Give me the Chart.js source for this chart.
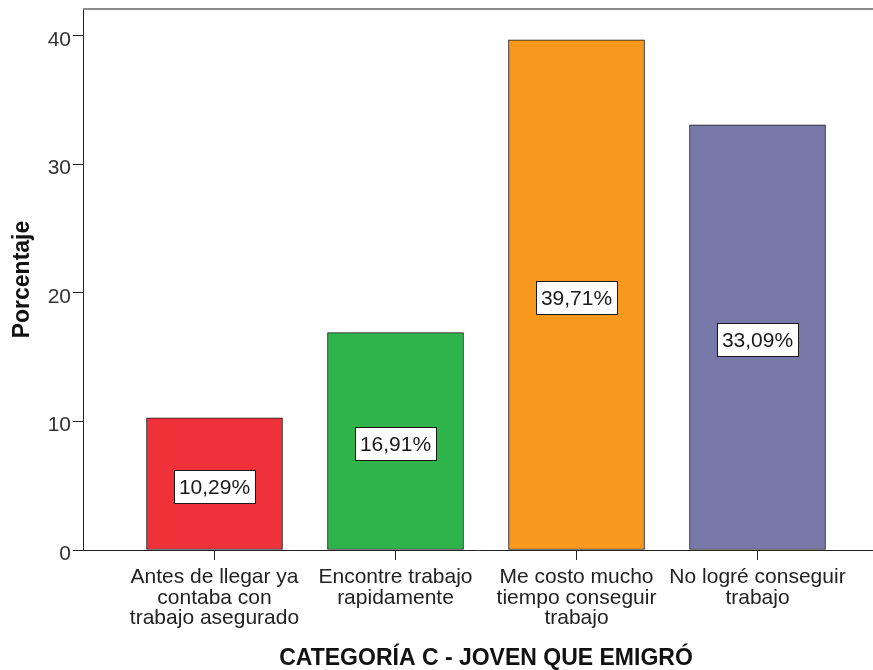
<!DOCTYPE html>
<html><head><meta charset="utf-8">
<script src="https://cdn.jsdelivr.net/npm/chart.js@4"></script>
<style>html,body{margin:0;padding:0;background:#fff;overflow:hidden}</style>
</head><body>
<canvas id="c" width="873" height="670"></canvas>
<script>
const categories = [
  ["Antes de llegar ya", "contaba con", "trabajo asegurado"],
  ["Encontre trabajo", "rapidamente"],
  ["Me costo mucho", "tiempo conseguir", "trabajo"],
  ["No logré conseguir", "trabajo"]
];
const percentages = [10.29, 16.91, 39.71, 33.09];
const barColors = ["#EF3239", "#2EB44A", "#F8981D", "#7879A8"];
const yTickValues = [0, 10, 20, 30, 40];
const yAxisTitle = "Porcentaje";
const xAxisTitle = "CATEGORÍA C - JOVEN QUE EMIGRÓ";

const FONT = "'Liberation Sans', Arial, sans-serif";
const positions = categories.map((c, i) => i + 1);

const framePlugin = {
  id: 'frame',
  beforeDatasetsDraw(chart) {
    const {ctx, chartArea} = chart;
    ctx.save();
    ctx.strokeStyle = '#8a8a8a';
    ctx.lineWidth = 2;
    ctx.beginPath();
    ctx.moveTo(chartArea.left, chartArea.top);
    ctx.lineTo(chartArea.right, chartArea.top);
    ctx.stroke();
    ctx.restore();
  }
};

const labelPlugin = {
  id: 'barLabels',
  afterDatasetsDraw(chart) {
    const ctx = chart.ctx;
    const meta = chart.getDatasetMeta(0);
    ctx.save();
    ctx.font = "21px " + FONT;
    meta.data.forEach((bar, i) => {
      const txt = percentages[i].toFixed(2).replace('.', ',') + '%';
      const w = Math.round(ctx.measureText(txt).width + 10);
      const h = 33;
      const cx = bar.x, cy = (bar.y + bar.base) / 2 + 2.5;
      const rx = Math.round(cx - w / 2) + 0.5, ry = Math.round(cy - h / 2) + 0.5;
      ctx.fillStyle = '#fff';
      ctx.fillRect(rx, ry, w, h);
      ctx.strokeStyle = '#1a1a1a';
      ctx.lineWidth = 1;
      ctx.strokeRect(rx, ry, w, h);
      ctx.fillStyle = '#1a1a1a';
      ctx.textAlign = 'center';
      ctx.textBaseline = 'alphabetic';
      ctx.fillText(txt, cx, cy + 7.5);
    });
    ctx.restore();
  }
};

const titlePlugin = {
  id: 'xTitle',
  afterDraw(chart) {
    const ctx = chart.ctx;
    const xs = chart.scales.x;
    ctx.save();
    ctx.font = "bold 23px " + FONT;
    ctx.fillStyle = '#111';
    ctx.textAlign = 'center';
    ctx.textBaseline = 'alphabetic';
    ctx.fillText(xAxisTitle, xs.getPixelForValue(2.5), 665);
    ctx.restore();
  }
};

new Chart(document.getElementById('c'), {
  type: 'bar',
  data: {
    datasets: [{
      data: positions.map((p, i) => ({x: p, y: percentages[i]})),
      backgroundColor: barColors,
      borderColor: '#1a1a1a',
      borderWidth: 1,
      borderSkipped: false,
      barThickness: 136
    }]
  },
  options: {
    responsive: false,
    animation: false,
    devicePixelRatio: 1,
    layout: {padding: {top: 9, left: 0, right: 0, bottom: 0}},
    plugins: {legend: {display: false}, tooltip: {enabled: false}},
    scales: {
      x: {
        type: 'linear',
        min: 0.2735,
        max: 4.6381,
        offset: false,
        afterBuildTicks: s => { s.ticks = positions.map(v => ({value: v})); },
        ticks: {
          callback: (v, i) => categories[i],
          font: {size: 21, family: FONT, lineHeight: '20.5px'},
          color: '#222',
          padding: 7,
          maxRotation: 0,
          autoSkip: false
        },
        grid: {offset: false, drawOnChartArea: false, drawTicks: true, tickLength: 10, color: '#222'},
        border: {display: true, color: '#222', width: 1},
        afterFit: s => { s.height = 120; s.paddingLeft = 0; s.paddingRight = 0; }
      },
      y: {
        min: 0,
        max: 42.1,
        afterBuildTicks: s => { s.ticks = yTickValues.map(v => ({value: v})); },
        ticks: {
          callback: v => String(v),
          font: {size: 21, family: FONT},
          color: '#333',
          padding: 2,
          labelOffset: 4
        },
        grid: {drawOnChartArea: false, drawTicks: true, tickLength: 10, color: '#222'},
        border: {display: true, color: '#222', width: 1},
        title: {
          display: true,
          text: yAxisTitle,
          font: {size: 23, weight: 'bold', family: FONT},
          color: '#111',
          padding: {top: 9, bottom: 0}
        },
        afterFit: s => { s.width = 83; s.paddingTop = 0; s.paddingBottom = 0; }
      }
    }
  },
  plugins: [framePlugin, labelPlugin, titlePlugin]
});
</script>
</body></html>
